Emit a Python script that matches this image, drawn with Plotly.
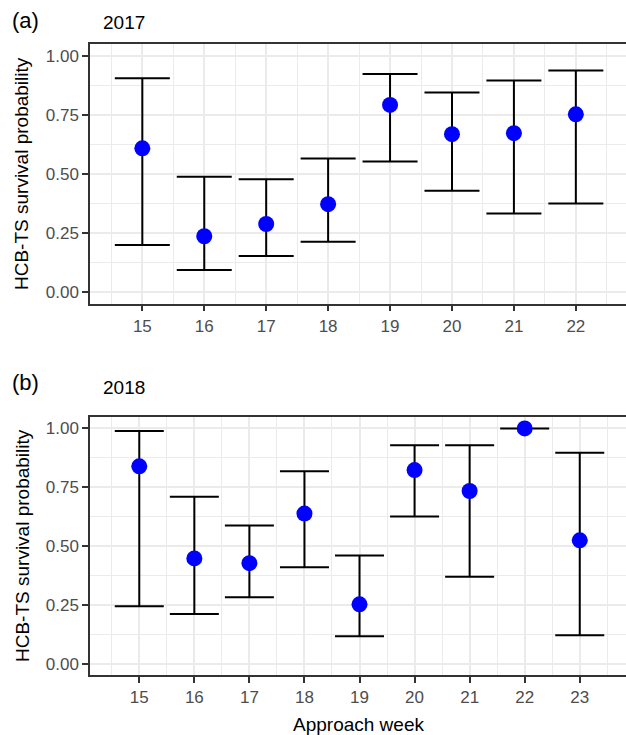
import plotly.graph_objects as go

# ---- data ----
weeks_2017 = [15, 16, 17, 18, 19, 20, 21, 22]
surv_2017 = [0.609, 0.236, 0.288, 0.372, 0.793, 0.669, 0.673, 0.753]
upper_2017 = [0.906, 0.488, 0.478, 0.566, 0.924, 0.846, 0.896, 0.939]
lower_2017 = [0.199, 0.093, 0.152, 0.213, 0.553, 0.429, 0.333, 0.375]

weeks_2018 = [15, 16, 17, 18, 19, 20, 21, 22, 23]
surv_2018 = [0.839, 0.447, 0.427, 0.638, 0.252, 0.823, 0.734, 1.000, 0.524]
upper_2018 = [0.989, 0.710, 0.587, 0.818, 0.460, 0.929, 0.929, 1.000, 0.897]
lower_2018 = [0.244, 0.211, 0.282, 0.410, 0.116, 0.625, 0.369, 1.000, 0.120]

y_ticks = [0, 0.25, 0.5, 0.75, 1.0]

W, H = 626, 735
FONT = "Liberation Sans, Arial, sans-serif"
GRID = "#EBEBEB"
BORDER = "#333333"


def px_x(p):
    return p / W


def px_y(p):
    return 1 - p / H


fig = go.Figure()


def add_panel(weeks, surv, up, lo, xa, ya, cap):
    fig.add_trace(go.Scatter(
        x=weeks, y=surv, mode="markers",
        marker=dict(color="#0000FF", size=16),
        error_y=dict(type="data", symmetric=False,
                     array=[u - s for u, s in zip(up, surv)],
                     arrayminus=[s - l for s, l in zip(surv, lo)],
                     color="black", thickness=2, width=cap),
        xaxis=xa, yaxis=ya, showlegend=False, hoverinfo="skip",
    ))


add_panel(weeks_2017, surv_2017, upper_2017, lower_2017, "x", "y", 27.5)
add_panel(weeks_2018, surv_2018, upper_2018, lower_2018, "x2", "y2", 24.5)

xcommon = dict(
    showgrid=True, gridcolor=GRID, gridwidth=1.6,
    tickmode="linear", dtick=1,
    ticks="outside", ticklen=6, tickwidth=1.5, tickcolor=BORDER,
    tickfont=dict(family=FONT, size=17, color="#4D4D4D"),
    showline=True, linecolor=BORDER, linewidth=1.5, mirror=True,
    zeroline=False,
    minor=dict(dtick=0.5, showgrid=True, gridcolor=GRID, gridwidth=0.8, ticks=""),
)
ycommon = dict(
    range=[-0.05, 1.05],
    showgrid=True, gridcolor=GRID, gridwidth=1.6,
    tickmode="array", tickvals=y_ticks, tickformat=".2f",
    ticks="outside", ticklen=6, tickwidth=1.5, tickcolor=BORDER,
    tickfont=dict(family=FONT, size=17, color="#4D4D4D"),
    showline=True, linecolor=BORDER, linewidth=1.5, mirror=False,
    zeroline=False,
    minor=dict(dtick=0.125, tick0=0.125, showgrid=True, gridcolor=GRID, gridwidth=0.8, ticks=""),
)

fig.update_layout(
    width=W, height=H,
    margin=dict(l=0, r=0, t=0, b=0),
    paper_bgcolor="white", plot_bgcolor="white",
    xaxis=dict(xcommon, domain=[px_x(90), 1], range=[14.155, 22.81], anchor="y"),
    yaxis=dict(ycommon, domain=[px_y(303.7), px_y(44.3)], anchor="x"),
    xaxis2=dict(xcommon, domain=[px_x(90), 1], range=[14.105, 23.84], anchor="y2"),
    yaxis2=dict(ycommon, domain=[px_y(675.3), px_y(416.7)], anchor="x2"),
)

ann = [
    dict(text="(a)", x=px_x(10), y=px_y(20), xanchor="left", yanchor="middle", font=dict(size=22)),
    dict(text="2017", x=px_x(101), y=px_y(23), xanchor="left", yanchor="middle", font=dict(size=19)),
    dict(text="(b)", x=px_x(10), y=px_y(383), xanchor="left", yanchor="middle", font=dict(size=22)),
    dict(text="2018", x=px_x(101), y=px_y(387), xanchor="left", yanchor="middle", font=dict(size=19)),
    dict(text="HCB-TS survival probability", x=px_x(22), y=px_y(174), textangle=-90,
         xanchor="center", yanchor="middle", font=dict(size=19)),
    dict(text="HCB-TS survival probability", x=px_x(22), y=px_y(546), textangle=-90,
         xanchor="center", yanchor="middle", font=dict(size=19)),
    dict(text="Approach week", x=px_x(358), y=px_y(724), xanchor="center", yanchor="middle",
         font=dict(size=19)),
]
for a in ann:
    a.update(xref="paper", yref="paper", showarrow=False)
    a["font"].update(family=FONT, color="black")
fig.update_layout(annotations=ann)

fig.write_html("out.html")
